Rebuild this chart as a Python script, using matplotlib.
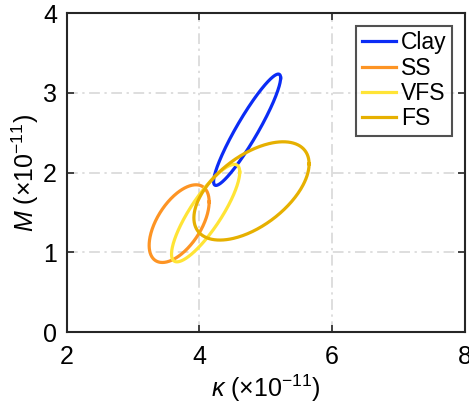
import numpy as np
import matplotlib
matplotlib.use('Agg')
import matplotlib.pyplot as plt

plt.rcParams['font.family'] = ['Liberation Sans', 'DejaVu Sans']
plt.rcParams['mathtext.fontset'] = 'custom'
plt.rcParams['mathtext.rm'] = 'Liberation Sans'
plt.rcParams['mathtext.it'] = 'Liberation Sans:italic'

# ellipse parameters (centre, half-extent in x and y, correlation), units of 1e-11
labels = ['Clay', 'SS', 'VFS', 'FS']
center_x = [4.72, 3.696, 4.095, 4.786]
center_y = [2.537, 1.36, 1.492, 1.77]
sd_x = [0.505, 0.452, 0.514, 0.868]
sd_y = [0.698, 0.487, 0.611, 0.616]
rho = [0.93, 0.56, 0.84, 0.55]
colors = ['#0b2cf5', '#fd9424', '#ffe436', '#e6b000']

xticks = [2, 4, 6, 8]
yticks = [0, 1, 2, 3, 4]

fig = plt.figure(figsize=(4.69, 4.08), dpi=100)
ax = fig.add_axes([0.142, 0.186, 0.849, 0.782])

t = np.linspace(0, 2 * np.pi, 300)
for i in range(len(labels)):
    x = center_x[i] + sd_x[i] * np.cos(t)
    y = center_y[i] + sd_y[i] * (rho[i] * np.cos(t) + np.sqrt(1 - rho[i] ** 2) * np.sin(t))
    ax.plot(x, y, color=colors[i], lw=2.3, label=labels[i])

ax.set_xlim(2, 8)
ax.set_ylim(0, 4)
ax.set_xticks(xticks)
ax.set_yticks(yticks)
ax.grid(True, color='#d4d4d4', linestyle=(0, (7, 3, 1.5, 3)), lw=1.1)
ax.set_axisbelow(True)
for s in ax.spines.values():
    s.set_color('#262626')
    s.set_linewidth(1.5)
ax.tick_params(direction='in', length=5, width=1.2, color='#262626',
               labelsize=18, top=True, right=True)
ax.tick_params(axis='x', pad=9)
ax.tick_params(axis='y', pad=7)

ax.set_xlabel('$\\kappa\\ (\\times 10^{-11})$', fontsize=18, labelpad=3)
ax.set_ylabel('$M\\ (\\times 10^{-11})$', fontsize=18, labelpad=1)

leg = ax.legend(loc='upper right', fontsize=16.5, frameon=True, fancybox=False,
                edgecolor='#262626', handlelength=1.5, handletextpad=0.2,
                labelspacing=0.1, borderpad=0.25, borderaxespad=0.55)
leg.get_frame().set_linewidth(1.5)

fig.savefig('out.png', dpi=100)
